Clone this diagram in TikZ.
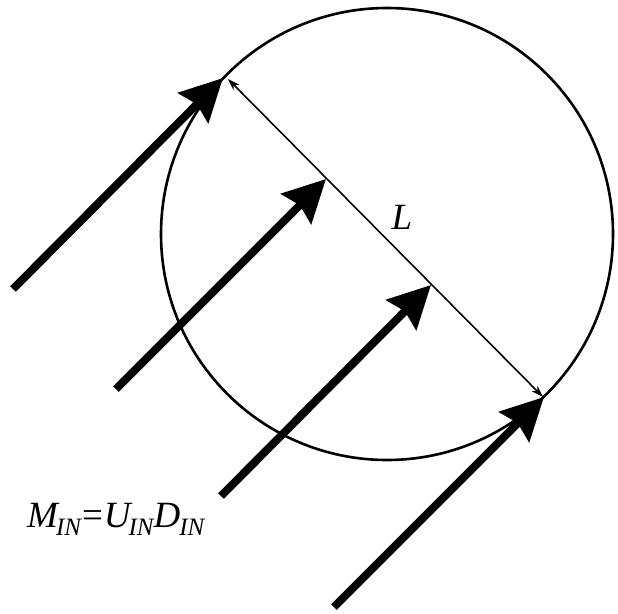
\documentclass[tikz,border=0pt]{standalone}
\usepackage{fontspec}
\setmainfont{Liberation Serif}
\usetikzlibrary{arrows.meta}
\newcommand{\mysub}[1]{\raisebox{-8pt}{\fontsize{25}{25}\selectfont\itshape #1}}
\tikzset{
  flow/.style={line width=8pt, -{Stealth[length=42pt, width=42pt, inset=5pt]}},
  dim/.style={line width=1.6pt, {Stealth[length=12pt, width=8pt]}-{Stealth[length=12pt, width=8pt]}},
  lbl/.style={font=\fontsize{37}{37}\selectfont\itshape, inner sep=0pt}
}
\begin{document}
\begin{tikzpicture}[x=1pt, y=-1pt]
\useasboundingbox (0,0) rectangle (618,613);
\node[circle, draw, line width=2.6pt, minimum size=452pt, inner sep=0pt] (c) at (387,234) {};
\coordinate (d1) at (228,79);
\coordinate (d2) at (543,397);
\draw[dim] (d1) -- (d2);
\node[lbl] (L) at (402,217) {L};
\coordinate (t1) at (13,289);  \coordinate (h1) at (223,78);
\coordinate (t2) at (116,389); \coordinate (h2) at (326,179);
\coordinate (t3) at (221,496); \coordinate (h3) at (431,285);
\coordinate (t4) at (334,607); \coordinate (h4) at (544,397);
\draw[flow] (t1) -- (h1);
\draw[flow] (t2) -- (h2);
\draw[flow] (t3) -- (h3);
\draw[flow] (t4) -- (h4);
\node[lbl, anchor=base west] (eq) at (27,527) {M\kern-2pt\mysub{IN}\kern1pt{\upshape=}\kern1pt U\kern-2pt\mysub{IN}D\kern-1pt\mysub{IN}};
\end{tikzpicture}
\end{document}
